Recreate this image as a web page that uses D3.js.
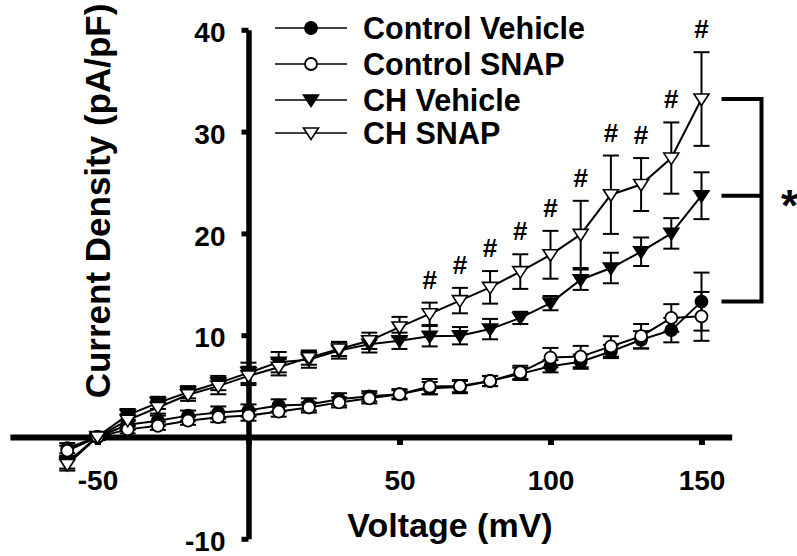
<!DOCTYPE html>
<html>
<head>
<meta charset="utf-8">
<script src="https://cdn.jsdelivr.net/npm/d3@7"></script>
<style>
  body { margin: 0; background: #ffffff; }
  text { font-family: "Liberation Sans", Arial, sans-serif; font-weight: bold; }
</style>
</head>
<body>
<div id="chart"></div>
<script>
// values (mean and SEM per voltage step)
const voltages = [-60, -50, -40, -30, -20, -10, 0, 10, 20, 30, 40, 50, 60, 70, 80, 90, 100, 110, 120, 130, 140, 150];

const ctrlVehicleMean = [-1.1, 0.0, 1.2, 1.6, 2.1, 2.4, 2.6, 3.1, 3.2, 3.7, 4.0, 4.2, 4.8, 4.9, 5.5, 6.2, 6.95, 7.4, 8.4, 9.55, 10.5, 13.3];
const ctrlVehicleSe = [0.5, 0.3, 0.5, 0.5, 0.5, 0.6, 0.6, 0.6, 0.6, 0.6, 0.5, 0.5, 0.6, 0.6, 0.5, 0.6, 0.6, 0.7, 0.65, 0.85, 1.2, 2.85];

const ctrlSnapMean = [-1.35, 0.0, 0.75, 1.1, 1.6, 1.95, 2.1, 2.5, 2.9, 3.4, 3.8, 4.2, 4.95, 5.0, 5.5, 6.35, 7.8, 7.9, 8.9, 9.9, 11.7, 11.85];
const ctrlSnapSe = [0.5, 0.3, 0.4, 0.4, 0.4, 0.5, 0.5, 0.5, 0.5, 0.5, 0.5, 0.4, 0.75, 0.6, 0.5, 0.65, 0.95, 1.05, 1.0, 1.2, 1.35, 2.4];

const chVehicleMean = [-2.5, 0.05, 2.15, 3.35, 4.4, 5.3, 6.3, 7.35, 7.6, 8.5, 9.1, 9.45, 9.9, 9.95, 10.6, 11.7, 13.15, 15.45, 16.6, 18.2, 20.0, 23.7];
const chVehicleSe = [0.6, 0.3, 0.6, 0.6, 0.6, 0.7, 1.0, 1.0, 0.8, 0.8, 0.8, 0.8, 1.0, 0.85, 1.0, 0.6, 0.7, 1.0, 1.5, 1.4, 1.5, 2.3];

const chSnapMean = [-2.7, 0.0, 1.65, 2.9, 4.15, 5.0, 6.0, 6.85, 7.8, 8.65, 9.45, 10.8, 12.1, 13.4, 14.7, 16.25, 17.9, 19.9, 23.8, 24.8, 27.4, 33.2];
const chSnapSe = [0.6, 0.3, 0.6, 0.6, 0.6, 0.8, 0.9, 0.8, 0.7, 0.7, 0.8, 1.0, 1.1, 1.25, 1.6, 1.7, 2.35, 3.3, 3.85, 2.6, 3.5, 4.6];

const seriesNames = ["Control Vehicle", "Control SNAP", "CH Vehicle", "CH SNAP"];
const sigVoltages = [60, 70, 80, 90, 100, 110, 120, 130, 140, 150]; // "#" marks
const xTicks = [-50, 0, 50, 100, 150];
const yTicks = [-10, 0, 10, 20, 30, 40];

const width = 797;
const height = 556;

const series = [
  { name: seriesNames[0], mean: ctrlVehicleMean, se: ctrlVehicleSe, shape: "circle", fill: "#000" },
  { name: seriesNames[1], mean: ctrlSnapMean, se: ctrlSnapSe, shape: "circle", fill: "#fff" },
  { name: seriesNames[2], mean: chVehicleMean, se: chVehicleSe, shape: "triangle", fill: "#000" },
  { name: seriesNames[3], mean: chSnapMean, se: chSnapSe, shape: "triangle", fill: "#fff" },
];

const svg = d3
  .select("#chart")
  .append("svg")
  .attr("width", width)
  .attr("height", height);

// scales: axes cross at the origin
const x = d3.scaleLinear().domain([-79, 160]).range([9.9, 731.7]);
const y = d3.scaleLinear().domain([-10, 40]).range([538.8, 29.8]);

// x axis
const xAxis = d3
  .axisBottom(x)
  .tickValues(xTicks)
  .tickSize(8)
  .tickSizeOuter(0)
  .tickPadding(26)
  .tickFormat((d) => (d === 0 ? "" : d));

const gx = svg
  .append("g")
  .attr("transform", `translate(0, ${y(0)})`)
  .call(xAxis);
gx.select(".domain").attr("stroke", "#000").attr("stroke-width", 6);
gx.selectAll(".tick line").attr("stroke", "#000").attr("stroke-width", 6);
gx.selectAll(".tick text")
  .attr("fill", "#000")
  .attr("dy", "0.69em")
  .style("font-size", "28px");

// y axis
const yAxis = d3
  .axisLeft(y)
  .tickValues(yTicks)
  .tickSize(7)
  .tickSizeOuter(0)
  .tickPadding(16)
  .tickFormat((d) => (d === 0 ? "" : d));

const gy = svg
  .append("g")
  .attr("transform", `translate(${x(0)}, 0)`)
  .call(yAxis);
gy.select(".domain").attr("stroke", "#000").attr("stroke-width", 5.5);
gy.selectAll(".tick line").attr("stroke", "#000").attr("stroke-width", 5);
gy.selectAll(".tick text")
  .attr("fill", "#000")
  .attr("dy", "0.42em")
  .style("font-size", "28px");
svg.selectAll("g").attr("font-family", null).attr("font-size", null);

// axis titles
svg
  .append("text")
  .attr("x", 450)
  .attr("y", 537)
  .attr("text-anchor", "middle")
  .style("font-size", "34px")
  .text("Voltage (mV)");

svg
  .append("text")
  .attr("transform", "translate(110, 201) rotate(-90)")
  .attr("text-anchor", "middle")
  .style("font-size", "35px")
  .text("Current Density (pA/pF)");

// marker helper
const triPath = "M-7.5,-5L7.5,-5L0,6.5Z";
const drawMarker = (sel, s) => {
  if (s.shape === "circle") {
    sel.append("circle").attr("r", 6).attr("fill", s.fill).attr("stroke", "#000").attr("stroke-width", 1.8);
  } else {
    sel.append("path").attr("d", triPath).attr("fill", s.fill).attr("stroke", "#000").attr("stroke-width", 1.6);
  }
};

const rows = (s) => voltages.map((v, i) => ({ v, m: s.mean[i], e: s.se[i] }));

// connecting lines
const line = d3
  .line()
  .x((d) => x(d.v))
  .y((d) => y(d.m));

series.forEach((s) => {
  svg
    .append("path")
    .datum(rows(s))
    .attr("d", line)
    .attr("fill", "none")
    .attr("stroke", "#000")
    .attr("stroke-width", 2);
});

// error bars
series.forEach((s) => {
  const eb = svg
    .append("g")
    .selectAll("g")
    .data(rows(s))
    .enter()
    .append("g")
    .attr("stroke", "#000")
    .attr("stroke-width", 2);
  eb.append("line")
    .attr("x1", (d) => x(d.v))
    .attr("x2", (d) => x(d.v))
    .attr("y1", (d) => y(d.m - d.e))
    .attr("y2", (d) => y(d.m + d.e));
  [-1, 1].forEach((sign) => {
    eb.append("line")
      .attr("x1", (d) => x(d.v) - 8)
      .attr("x2", (d) => x(d.v) + 8)
      .attr("y1", (d) => y(d.m + sign * d.e))
      .attr("y2", (d) => y(d.m + sign * d.e));
  });
});

// markers
series.forEach((s) => {
  svg
    .append("g")
    .selectAll("g")
    .data(rows(s))
    .enter()
    .append("g")
    .attr("transform", (d) => `translate(${x(d.v)}, ${y(d.m)})`)
    .each(function () {
      drawMarker(d3.select(this), s);
    });
});

// "#" over CH SNAP points
const chSnapRows = rows(series[3]);
svg
  .append("g")
  .selectAll("text")
  .data(chSnapRows.filter((d) => sigVoltages.includes(d.v)))
  .enter()
  .append("text")
  .attr("x", (d) => x(d.v))
  .attr("y", (d) => y(d.m + d.e) - 14)
  .attr("text-anchor", "middle")
  .style("font-size", "26px")
  .text("#");

// bracket at 150 mV joining the end points
const lastIdx = voltages.length - 1;
const bx0 = x(voltages[lastIdx]) + 20;
const bx1 = x(voltages[lastIdx]) + 60;
const levels = [chSnapMean[lastIdx], chVehicleMean[lastIdx], ctrlVehicleMean[lastIdx]].map((v) => y(v));
svg
  .append("path")
  .attr(
    "d",
    `M${bx0},${levels[0]}H${bx1}V${levels[2]}H${bx0}M${bx1},${levels[1]}H${bx0}`
  )
  .attr("fill", "none")
  .attr("stroke", "#000")
  .attr("stroke-width", 4);

svg
  .append("text")
  .attr("x", bx1 + 28)
  .attr("y", levels[1] + 25)
  .attr("text-anchor", "middle")
  .style("font-size", "44px")
  .text("*");

// legend
const legendRows = [28, 64, 100, 133];
const legend = svg
  .append("g")
  .selectAll("g")
  .data(series)
  .enter()
  .append("g")
  .attr("transform", (d, i) => `translate(275, ${legendRows[i]})`);

legend
  .append("line")
  .attr("x1", 0)
  .attr("x2", 72)
  .attr("stroke", "#000")
  .attr("stroke-width", 1.6);

legend
  .append("g")
  .attr("transform", "translate(36, 0)")
  .each(function (s) {
    drawMarker(d3.select(this), s);
  });

legend
  .append("text")
  .attr("x", 88)
  .attr("y", 10.5)
  .style("font-size", "30.5px")
  .text((d) => d.name);
</script>
</body>
</html>
